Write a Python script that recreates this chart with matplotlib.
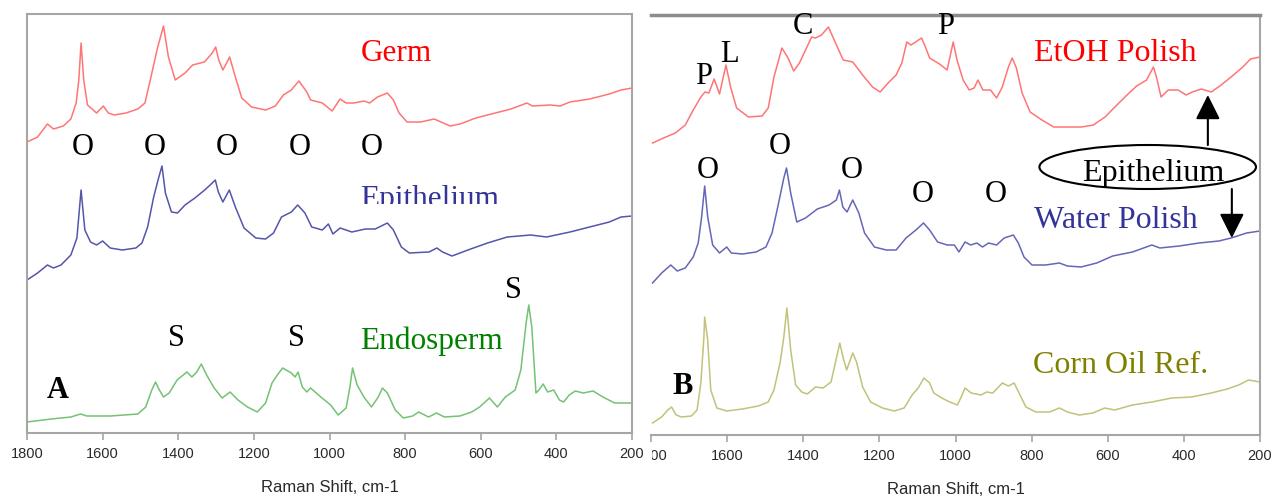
import matplotlib
matplotlib.use('Agg')
import matplotlib.pyplot as plt
from matplotlib.patches import Ellipse
from matplotlib.transforms import Bbox, TransformedBbox

# Raman spectra (shift in cm-1, height in arbitrary units)
germ_shift = [1800, 1772, 1746, 1730, 1704, 1684, 1670, 1663, 1657, 1650, 1640, 1616, 1598, 1585, 1569,
              1538, 1507, 1488, 1474, 1455, 1439, 1426, 1408, 1382, 1362, 1331, 1310, 1301, 1293, 1282,
              1264, 1249, 1232, 1206, 1169, 1143, 1122, 1101, 1081, 1060, 1050, 1019, 993, 972, 956,
              935, 909, 894, 873, 847, 831, 816, 795, 759, 723, 681, 655, 613, 572, 520, 478, 463, 416,
              390, 364, 312, 260, 229, 200]
germ_int = [291, 296, 309, 304, 307, 314, 330, 353, 390, 353, 328, 320, 327, 320, 318,
            320, 324, 330, 353, 385, 407, 376, 353, 360, 368, 371, 380, 386, 373, 363,
            376, 356, 335, 326, 323, 327, 338, 343, 352, 341, 333, 330, 322, 334, 330,
            330, 332, 330, 336, 340, 333, 320, 311, 311, 314, 307, 309, 315, 319, 324, 330, 327, 328,
            327, 331, 334, 339, 343, 345]

epi_shift = [1800, 1772, 1746, 1730, 1710, 1684, 1668, 1657, 1647, 1632, 1616, 1600, 1580, 1548, 1512,
             1496, 1481, 1465, 1452, 1443, 1434, 1418, 1402, 1382, 1356, 1330, 1310, 1302, 1294, 1282,
             1265, 1249, 1226, 1195, 1169, 1148, 1127, 1101, 1084, 1065, 1047, 1019, 1003, 991, 972,
             941, 905, 879, 847, 831, 810, 789, 737, 716, 701, 676, 634, 582, 530, 468, 426, 364, 312,
             260, 229, 200]
epi_int = [153, 160, 168, 165, 168, 178, 195, 243, 203, 191, 188, 192, 185, 183, 185,
           190, 206, 236, 255, 267, 240, 221, 220, 228, 235, 243, 250, 253, 241, 231,
           243, 226, 205, 195, 194, 200, 216, 221, 228, 220, 206, 203, 209, 199, 205,
           201, 204, 204, 210, 203, 186, 180, 181, 185, 181, 177, 183, 190, 196, 198, 196, 201, 206,
           211, 216, 217]

endo_shift = [1800, 1736, 1684, 1658, 1642, 1580, 1507, 1486, 1470, 1460, 1450, 1439, 1424, 1403, 1377,
              1364, 1351, 1339, 1325, 1305, 1284, 1263, 1242, 1217, 1191, 1169, 1152, 1138, 1124, 1101,
              1091, 1083, 1072, 1060, 1050, 1023, 997, 977, 956, 946, 939, 927, 909, 889, 871, 860,
              847, 826, 805, 780, 764, 738, 717, 696, 655, 624, 603, 577, 556, 535, 509, 494, 480, 473,
              465, 454, 446, 435, 423, 407, 392, 381, 366, 350, 329, 303, 277, 246, 220, 200]
endo_int = [11, 14, 16, 19, 17, 17, 19, 26, 43, 51, 43, 36, 40, 53, 61,
            56, 61, 69, 58, 45, 35, 41, 33, 26, 21, 30, 50, 58, 65, 60,
            56, 61, 46, 41, 45, 36, 28, 18, 25, 46, 65, 48, 36, 26, 36, 45,
            40, 23, 15, 17, 21, 16, 20, 16, 17, 21, 26, 35, 26, 36, 43, 63, 110, 128,
            106, 40, 43, 49, 41, 43, 33, 31, 38, 42, 40, 42, 36, 30, 30, 30]

etoh_shift = [1796, 1767, 1736, 1710, 1689, 1669, 1658, 1648, 1634, 1620, 1603, 1591, 1575, 1544, 1508,
              1492, 1477, 1456, 1440, 1425, 1410, 1394, 1378, 1368, 1352, 1334, 1321, 1295, 1270, 1244,
              1218, 1198, 1177, 1156, 1141, 1128, 1117, 1105, 1089, 1079, 1068, 1042, 1022, 1006, 996,
              980, 964, 951, 941, 928, 908, 892, 877, 861, 851, 840, 825, 804, 773, 742, 711, 669, 638,
              607, 576, 544, 524, 498, 480, 472, 460, 441, 415, 394, 378, 354, 328, 302, 276, 245, 225, 200]
etoh_int = [290, 295, 300, 308, 323, 336, 341, 340, 354, 339, 368, 346, 325, 316, 317,
            325, 356, 385, 375, 362, 370, 383, 396, 395, 398, 406, 395, 373, 371, 358,
            346, 341, 350, 358, 370, 391, 388, 391, 395, 386, 375, 369, 363, 391, 373,
            353, 343, 345, 353, 343, 343, 335, 346, 366, 375, 365, 340, 321, 313, 306, 306, 306, 308,
            316, 328, 340, 347, 353, 366, 356, 336, 343, 343, 338, 341, 344, 341, 348, 356, 366, 374, 376]

water_shift = [1796, 1772, 1748, 1731, 1710, 1689, 1676, 1667, 1659, 1651, 1638, 1620, 1601, 1589, 1560,
               1524, 1498, 1482, 1467, 1451, 1444, 1433, 1417, 1394, 1363, 1332, 1313, 1305, 1296, 1285,
               1270, 1254, 1239, 1213, 1182, 1156, 1130, 1104, 1084, 1068, 1047, 1022, 1003, 991, 975,
               960, 944, 929, 913, 892, 872, 848, 835, 820, 799, 763, 727, 706, 670, 629, 587, 535, 484,
               463, 412, 360, 308, 276, 235, 200]
water_int = [150, 160, 168, 162, 165, 176, 190, 216, 247, 216, 188, 180, 186, 180, 179,
             181, 186, 200, 226, 255, 265, 240, 211, 215, 224, 228, 233, 243, 226, 221,
             233, 220, 200, 186, 183, 183, 195, 203, 210, 203, 191, 188, 188, 181, 191,
             188, 190, 186, 190, 188, 195, 198, 190, 176, 168, 168, 170, 167, 166, 170, 177, 181, 188,
             185, 187, 190, 192, 195, 200, 202]

corn_shift = [1796, 1772, 1756, 1746, 1734, 1720, 1694, 1679, 1669, 1661, 1659, 1651, 1643, 1627, 1601,
              1560, 1518, 1492, 1477, 1461, 1451, 1443, 1433, 1420, 1404, 1389, 1368, 1348, 1327, 1314,
              1304, 1295, 1286, 1270, 1260, 1244, 1223, 1192, 1161, 1135, 1114, 1098, 1083, 1068, 1057,
              1036, 1015, 995, 985, 975, 959, 933, 918, 902, 877, 861, 846, 833, 815, 789, 753, 727,
              706, 675, 639, 608, 582, 535, 484, 432, 380, 328, 286, 256, 230, 200]
corn_int = [10, 16, 23, 26, 18, 16, 17, 23, 50, 96, 116, 93, 43, 25, 22,
            24, 27, 31, 43, 70, 96, 125, 83, 48, 41, 39, 46, 45, 51, 73,
            90, 75, 63, 80, 71, 46, 31, 25, 22, 25, 38, 45, 55, 50, 40,
            35, 31, 28, 36, 45, 40, 38, 41, 40, 50, 47, 50, 40, 26, 21, 21, 25,
            21, 18, 20, 25, 23, 28, 31, 35, 36, 40, 44, 48, 53, 51]

shift_ticks = [1800, 1600, 1400, 1200, 1000, 800, 600, 400, 200]

SERIF = 'Liberation Serif'
SANS = 'Liberation Sans'

fig = plt.figure(figsize=(12.71, 4.96), dpi=100)
fig.patch.set_facecolor('white')

ax1 = fig.add_axes([27 / 1271, 63 / 496, 605 / 1271, 419 / 496])
ax2 = fig.add_axes([651 / 1271, 61 / 496, 609 / 1271, 420 / 496])


def setup(ax, ylim):
    ax.set_xlim(1800, 200)
    ax.set_ylim(*ylim)
    ax.set_yticks([])
    ax.set_xticks(shift_ticks, [str(t) for t in shift_ticks])
    ax.tick_params(axis='x', direction='out', length=5, width=1.2, color='#A6A6A6',
                   pad=5, labelsize=10.5, labelcolor='#2A2A2A')
    for lbl in ax.get_xticklabels():
        lbl.set_family(SANS)
    ax.set_xlabel('Raman Shift, cm-1', family=SANS, fontsize=12, color='#2A2A2A', labelpad=14)
    for sp in ax.spines.values():
        sp.set_color('#A6A6A6')
        sp.set_linewidth(1.5)


setup(ax1, (0, 419))
setup(ax2, (-2, 418))
ax2.spines['left'].set_visible(False)
ax2.spines['top'].set_color('#8C8C8C')
ax2.spines['top'].set_linewidth(2.5)

# panel A
ax1.plot(germ_shift, germ_int, color='#FF7575', lw=1.1)
ax1.plot(epi_shift, epi_int, color='#5555AA', lw=1.1)
ax1.plot(endo_shift, endo_int, color='#74C274', lw=1.1)

ax1.text(918, 372, 'Germ', family=SERIF, fontsize=22.5, color='#FF0000', va='baseline')
epi_txt = ax1.text(918, 225.5, 'Epithelium', family=SERIF, fontsize=22.5, color='#333399', va='baseline')
epi_txt.set_clip_box(TransformedBbox(Bbox.from_extents(0, (496 - 204) / 496, 1, 1), fig.transFigure))
epi_txt.set_clip_on(True)
ax1.text(918, 84, 'Endosperm', family=SERIF, fontsize=22.5, color='#008000', va='baseline')

for s in [1653, 1462, 1271, 1079, 889]:
    ax1.text(s, 286, 'O', family=SERIF, fontsize=22, ha='center', va='center')
for s, h in [(1404, 95), (1087, 95), (514, 143)]:
    ax1.text(s, h, 'S', family=SERIF, fontsize=22, ha='center', va='center')
ax1.text(1718, 43, 'A', family=SERIF, fontsize=22, fontweight='bold', ha='center', va='center')

# panel B
ax2.plot(etoh_shift, etoh_int, color='#FF7575', lw=1.1)
ax2.plot(water_shift, water_int, color='#6666B8', lw=1.1)
ax2.plot(corn_shift, corn_int, color='#C2C27A', lw=1.1)

ax2.text(794, 372, 'EtOH Polish', family=SERIF, fontsize=23, color='#FF0000', va='baseline')
ax2.text(794, 205, 'Water Polish', family=SERIF, fontsize=23, color='#333399', va='baseline')
ax2.text(796, 60, 'Corn Oil Ref.', family=SERIF, fontsize=23, color='#808000', va='baseline')

for s, h, t in [(1663, 356, 'P'), (1594, 378, 'L'), (1402, 406, 'C'), (1025, 406, 'P')]:
    ax2.text(s, h, t, family=SERIF, fontsize=22, ha='center', va='center')
for s, h in [(1652, 262), (1463, 286), (1273, 262), (1086, 238), (893, 238)]:
    ax2.text(s, h, 'O', family=SERIF, fontsize=22, ha='center', va='center')
ax2.text(1718, 46, 'B', family=SERIF, fontsize=22, fontweight='bold', ha='center', va='center')

ax2.add_patch(Ellipse((495, 266), 569, 44, fill=False, edgecolor='black', lw=1.5))
ax2.text(667, 252, 'Epithelium', family=SERIF, fontsize=23, va='baseline')
arrow = dict(arrowstyle='-|>,head_length=1.0,head_width=0.5', color='black', lw=1.5,
             mutation_scale=15, shrinkA=0, shrinkB=0)
ax2.annotate('', xy=(337, 338), xytext=(337, 288), arrowprops=arrow)
ax2.annotate('', xy=(274, 195), xytext=(274, 244), arrowprops=arrow)

# the right panel's first tick label is cut off at the panel edge
first = ax2.xaxis.get_major_ticks()[0].label1
first.set_clip_box(TransformedBbox(Bbox.from_extents(652 / 1271, 0, 1, 1), fig.transFigure))
first.set_clip_on(True)

fig.savefig('out.png', dpi=100)
